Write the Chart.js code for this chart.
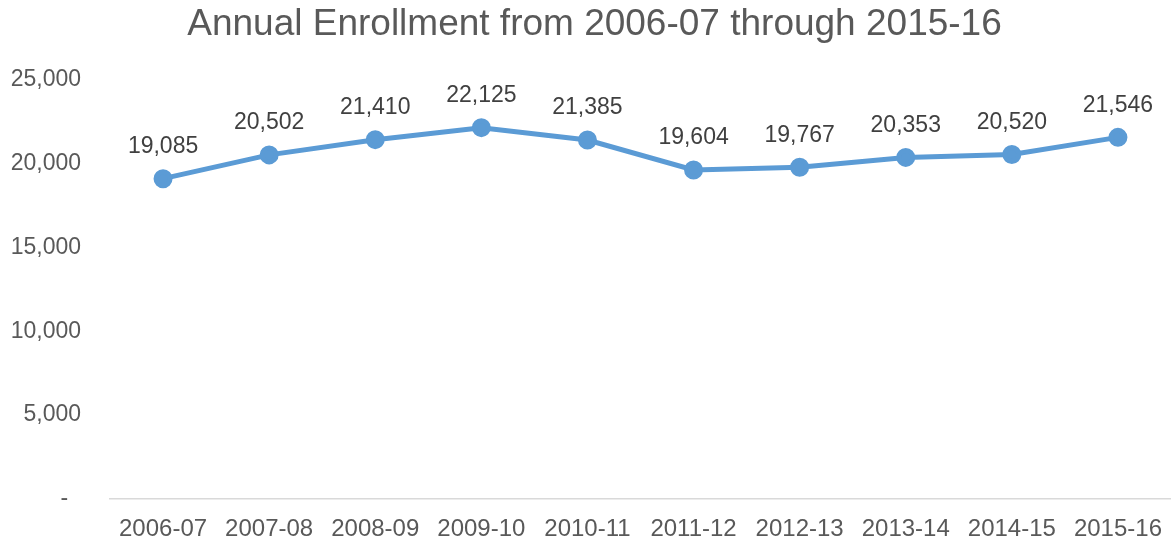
<!DOCTYPE html>
<html>
<head>
<meta charset="utf-8">
<script src="https://cdn.jsdelivr.net/npm/chart.js@4/dist/chart.umd.min.js"></script>
<style>
  html, body { margin: 0; padding: 0; background: #fff; }
  #chart { display: block; }
</style>
</head>
<body>
<canvas id="chart" width="1171" height="542"></canvas>
<script>
const years = ['2006-07', '2007-08', '2008-09', '2009-10', '2010-11', '2011-12', '2012-13', '2013-14', '2014-15', '2015-16'];
const enrollment = [19085, 20502, 21410, 22125, 21385, 19604, 19767, 20353, 20520, 21546];
const yTicks = [0, 5000, 10000, 15000, 20000, 25000];

const lineColor = '#5B9BD5';
const textColor = '#595959';
const fontFamily = '"Liberation Sans", Arial, sans-serif';

// numbers above each point
const pointLabels = {
    id: 'pointLabels',
    afterDatasetsDraw(chart) {
        const ctx = chart.ctx;
        const meta = chart.getDatasetMeta(0);
        ctx.save();
        ctx.font = '23px ' + fontFamily;
        ctx.fillStyle = '#404040';
        ctx.textAlign = 'center';
        ctx.textBaseline = 'middle';
        meta.data.forEach((pt, i) => {
            ctx.fillText(enrollment[i].toLocaleString('en-US'), pt.x, pt.y - 32);
        });
        ctx.restore();
    }
};

new Chart(document.querySelector('#chart').getContext('2d'), {
    type: 'line',
    data: {
        labels: years,
        datasets: [{
            data: enrollment,
            borderColor: lineColor,
            backgroundColor: lineColor,
            borderWidth: 5,
            pointRadius: 7,
            pointHoverRadius: 7,
            tension: 0
        }]
    },
    plugins: [pointLabels],
    options: {
        responsive: false,
        animation: false,
        layout: { autoPadding: false, padding: { left: 9, right: -9, top: 0, bottom: 0 } },
        plugins: {
            legend: { display: false },
            tooltip: { enabled: false },
            title: {
                display: true,
                text: 'Annual Enrollment from 2006-07 through 2015-16',
                color: textColor,
                font: { family: fontFamily, size: 37, weight: 'normal' },
                padding: { top: 3, bottom: 32 }
            }
        },
        scales: {
            x: {
                offset: true,
                grid: { display: false },
                border: { display: true, color: '#D9D9D9', width: 1.5 },
                afterFit: scale => { scale.height = 43; },
                ticks: {
                    color: textColor,
                    font: { family: fontFamily, size: 24 },
                    padding: 8,
                    maxRotation: 0,
                    autoSkip: false
                }
            },
            y: {
                min: 0,
                max: 25000,
                grid: { display: false, drawTicks: false },
                border: { display: false },
                afterBuildTicks: scale => {
                    scale.ticks = yTicks.map(v => ({ value: v }));
                },
                afterFit: scale => { scale.width = 101; },
                ticks: {
                    color: textColor,
                    font: { family: fontFamily, size: 23 },
                    padding: 29,
                    callback: v => v === 0 ? '-  ' : v.toLocaleString('en-US')
                }
            }
        }
    }
});
</script>
</body>
</html>
